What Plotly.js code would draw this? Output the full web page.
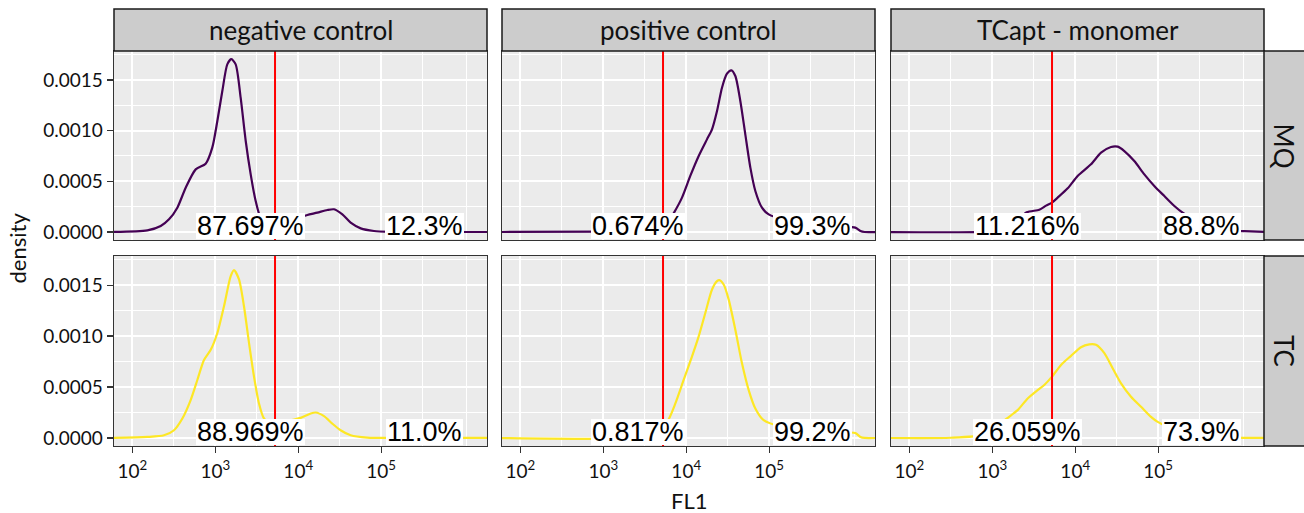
<!DOCTYPE html>
<html><head><meta charset="utf-8">
<script src="https://cdn.plot.ly/plotly-3.0.1.min.js"></script>
<style>html,body{margin:0;padding:0;background:#fff}#chart{width:1304px;height:513px}</style>
</head><body><div id="chart"></div>
<script>
// ---- data ----
const samples = ['negative control', 'positive control', 'TCapt - monomer'];
const media = ['MQ', 'TC'];
const mediaColors = ['#440154', '#FDE725'];
const threshold = 5250;
const labelBelowX = 2650;
const labelAboveX = 330000;
const pctBelow = ['87.697%', '0.674%', '11.216%', '88.969%', '0.817%', '26.059%'];
const pctAbove = ['12.3%', '99.3%', '88.8%', '11.0%', '99.2%', '73.9%'];
const xTickVals = [100, 1000, 10000, 100000];
const xTickText = ['10<sup>2</sup>', '10<sup>3</sup>', '10<sup>4</sup>', '10<sup>5</sup>'];
const xMinorVals = [316, 3162, 31623, 316228, 1070000];
const yTickVals = [0, 0.0005, 0.001, 0.0015];
const yTickText = ['0.0000', '0.0005', '0.0010', '0.0015'];
const yMinorVals = [0.00025, 0.00075, 0.00125, 0.00175];

// negative control, MQ
const negMQ_x = [50, 152, 220, 277, 349, 440, 581, 766, 920, 1059, 1216, 1396, 1563, 1762, 2023, 2328, 2673, 3069, 3524, 4467, 5623, 7586, 10000, 12880, 16980, 22440, 26980, 34040, 42850, 56620, 81850, 125900, 316200, 2000000];
const negMQ_y = [0, 1.6e-5, 5.9e-5, 1.25e-4, 2.4e-4, 4.37e-4, 6.18e-4, 6.74e-4, 8.32e-4, 1.095e-3, 1.391e-3, 1.654e-3, 1.705e-3, 1.654e-3, 1.325e-3, 8.98e-4, 5.69e-4, 3.06e-4, 1.41e-4, 7e-5, 6e-5, 1.0e-4, 1.4e-4, 1.68e-4, 1.91e-4, 2.17e-4, 2.24e-4, 1.74e-4, 9.2e-5, 3.6e-5, 1.0e-5, 2e-6, 0, 0];
// positive control, MQ
const posMQ_x = [50, 1000, 3000, 5623, 7047, 8892, 11190, 14130, 17780, 20460, 23500, 26980, 30970, 34990, 39080, 44870, 51520, 59290, 68080, 81850, 98630, 158500, 316200, 707900, 1091000, 1259000, 1413000, 2000000];
const posMQ_y = [0, 3e-6, 1e-5, 6e-5, 1.84e-4, 3.39e-4, 5.53e-4, 7.5e-4, 9.14e-4, 1.013e-3, 1.194e-3, 1.424e-3, 1.562e-3, 1.595e-3, 1.539e-3, 1.293e-3, 9.64e-4, 6.35e-4, 4.05e-4, 2.4e-4, 1.74e-4, 1.2e-4, 8e-5, 5.5e-5, 4.3e-5, 1e-5, 0, 0];
// TCapt - monomer, MQ
const tcaMQ_x = [50, 794, 1259, 1778, 2600, 3690, 4446, 5248, 6138, 8110, 10690, 15490, 20460, 26980, 32510, 39080, 51520, 68080, 89740, 118600, 156700, 197200, 302000, 478600, 758600, 1096000, 2000000];
const tcaMQ_y = [0, 2e-6, 2e-5, 8e-5, 1.94e-4, 2.2e-4, 2.6e-4, 2.9e-4, 3.39e-4, 4.31e-4, 5.53e-4, 6.68e-4, 7.83e-4, 8.39e-4, 8.42e-4, 7.99e-4, 7.0e-4, 5.69e-4, 4.54e-4, 3.55e-4, 2.57e-4, 1.91e-4, 1.0e-4, 4e-5, 1.5e-5, 8e-6, 0];
// negative control, TC
const negTC_x = [50, 152, 241, 318, 401, 505, 608, 731, 881, 1059, 1274, 1535, 1683, 1932, 2218, 2553, 2931, 3365, 3864, 5012, 7079, 10690, 14130, 16220, 20460, 25760, 32430, 42850, 68080, 158500, 2000000];
const negTC_y = [0, 1e-5, 2.6e-5, 7.6e-5, 1.91e-4, 3.72e-4, 5.69e-4, 7.66e-4, 8.65e-4, 1.03e-3, 1.293e-3, 1.589e-3, 1.648e-3, 1.556e-3, 1.293e-3, 9.31e-4, 6.02e-4, 3.39e-4, 1.91e-4, 1.2e-4, 1.6e-4, 1.97e-4, 2.4e-4, 2.5e-4, 2.14e-4, 1.41e-4, 7.6e-5, 2.6e-5, 3e-6, 0, 0];
// positive control, TC
const posTC_x = [50, 3000, 4467, 6138, 7396, 9311, 11720, 14130, 16980, 20460, 23500, 25060, 28250, 32510, 39080, 46990, 56620, 68080, 85700, 141300, 281800, 631000, 1091000, 1259000, 1413000, 2000000];
const posTC_y = [0, 3e-6, 4e-5, 1.84e-4, 3.39e-4, 5.69e-4, 7.99e-4, 9.97e-4, 1.227e-3, 1.457e-3, 1.539e-3, 1.549e-3, 1.506e-3, 1.358e-3, 1.062e-3, 7.33e-4, 4.7e-4, 2.89e-4, 1.74e-4, 1.1e-4, 8e-5, 6e-5, 4.9e-5, 1e-5, 0, 0];
// TCapt - monomer, TC
const tcaTC_x = [50, 316, 794, 1122, 1462, 2023, 2673, 3524, 4236, 5248, 6745, 8892, 11720, 14790, 17780, 22440, 28250, 35650, 46990, 62090, 81850, 98630, 158500, 281800, 631000, 2000000];
const tcaTC_y = [0, 2e-6, 3e-5, 1.0e-4, 1.84e-4, 2.73e-4, 3.88e-4, 4.7e-4, 5.2e-4, 6.02e-4, 7.17e-4, 8.06e-4, 8.91e-4, 9.18e-4, 9.14e-4, 8.32e-4, 6.84e-4, 5.36e-4, 4.05e-4, 3.06e-4, 2.07e-4, 1.58e-4, 8e-5, 3e-5, 5e-6, 0];

const panelX = [negMQ_x, posMQ_x, tcaMQ_x, negTC_x, posTC_x, tcaTC_x];
const panelY = [negMQ_y, posMQ_y, tcaMQ_y, negTC_y, posTC_y, tcaTC_y];

// ---- layout geometry (pixels) ----
const W = 1304, H = 513;
const colPx = [[114, 487], [502, 875], [891, 1264]];
const rowPx = [[51, 240], [256, 446]];
const stripTop = 9, stripRight = 1308;
const xRangeLog = [1.7793, 6.2754];
const yRange = [-0.0000789, 0.001786];

const UI_FONT = 'Lato, "Noto Sans", sans-serif';
const LABEL_FONT = '"Liberation Sans", Arial, sans-serif';
const TXT = '#111111';

const px2x = p => p / W;
const px2y = p => 1 - p / H;

const traces = [];
const layout = {
  width: W, height: H,
  margin: {l: 0, r: 0, t: 0, b: 0},
  paper_bgcolor: '#ffffff',
  plot_bgcolor: '#EBEBEB',
  showlegend: false,
  shapes: [],
  annotations: []
};

for (let i = 0; i < 6; i++) {
  const r = Math.floor(i / 3), c = i % 3;
  const k = i + 1;
  const xa = 'x' + (k === 1 ? '' : k), ya = 'y' + (k === 1 ? '' : k);
  traces.push({
    type: 'scatter', mode: 'lines', x: panelX[i], y: panelY[i],
    xaxis: xa, yaxis: ya,
    line: {color: mediaColors[r], width: 2.2, shape: 'spline', smoothing: 0.7},
    hoverinfo: 'skip'
  });
  traces.push({
    type: 'scatter', mode: 'lines', x: [threshold, threshold], y: [-0.01, 0.01],
    xaxis: xa, yaxis: ya,
    line: {color: '#FF0000', width: 2}, hoverinfo: 'skip'
  });
  const bottom = r === 1, left = c === 0;
  layout['xaxis' + (k === 1 ? '' : k)] = {
    type: 'log', range: xRangeLog, anchor: ya,
    domain: [px2x(colPx[c][0]), px2x(colPx[c][1])],
    tickmode: 'array', tickvals: xTickVals, ticktext: xTickText,
    showticklabels: bottom, ticks: bottom ? 'outside' : '', ticklen: 6, tickwidth: 1.2, tickcolor: '#333333',
    ticklabelstandoff: 2,
    tickfont: {family: UI_FONT, size: 19, color: TXT},
    showgrid: true, gridcolor: '#FFFFFF', gridwidth: 2,
    minor: {tickmode: 'array', tickvals: xMinorVals, showgrid: true, gridcolor: '#FFFFFF', gridwidth: 1, ticks: ''},
    zeroline: false, showline: true, mirror: true, linecolor: '#333333', linewidth: 1.3,
    fixedrange: true
  };
  layout['yaxis' + (k === 1 ? '' : k)] = {
    range: yRange, anchor: xa,
    domain: [px2y(rowPx[r][1]), px2y(rowPx[r][0])],
    tickmode: 'array', tickvals: yTickVals, ticktext: yTickText,
    showticklabels: left, ticks: left ? 'outside' : '', ticklen: 6, tickwidth: 1.2, tickcolor: '#333333',
    tickfont: {family: UI_FONT, size: 19, color: TXT},
    showgrid: true, gridcolor: '#FFFFFF', gridwidth: 2,
    minor: {tickmode: 'array', tickvals: yMinorVals, showgrid: true, gridcolor: '#FFFFFF', gridwidth: 1, ticks: ''},
    zeroline: false, showline: true, mirror: true, linecolor: '#333333', linewidth: 1.3,
    fixedrange: true
  };
  // percentage labels
  [[labelBelowX, pctBelow[i]], [labelAboveX, pctAbove[i]]].forEach(([lx, txt]) => {
    layout.annotations.push({
      xref: xa, yref: ya, x: Math.log10(lx), y: 0, yshift: 6,
      xanchor: 'center', yanchor: 'middle', showarrow: false,
      text: txt, font: {family: LABEL_FONT, size: 27, color: '#000000'},
      bgcolor: '#FFFFFF', borderpad: 1, height: 24, borderwidth: 0
    });
  });
}

// facet strips (top: samples, right: media)
samples.forEach((s, c) => {
  layout.shapes.push({
    type: 'rect', xref: 'paper', yref: 'paper', layer: 'above',
    x0: px2x(colPx[c][0]), x1: px2x(colPx[c][1]), y0: px2y(rowPx[0][0]), y1: px2y(stripTop),
    fillcolor: '#CCCCCC', line: {color: '#1a1a1a', width: 1.5}
  });
  layout.annotations.push({
    xref: 'paper', yref: 'paper', x: px2x((colPx[c][0] + colPx[c][1]) / 2), y: px2y((stripTop + rowPx[0][0]) / 2),
    xanchor: 'center', yanchor: 'middle', showarrow: false, text: s,
    font: {family: UI_FONT, size: 26, color: TXT}
  });
});
media.forEach((m, r) => {
  layout.shapes.push({
    type: 'rect', xref: 'paper', yref: 'paper', layer: 'above',
    x0: px2x(colPx[2][1]), x1: px2x(stripRight), y0: px2y(rowPx[r][1]), y1: px2y(rowPx[r][0]),
    fillcolor: '#CCCCCC', line: {color: '#1a1a1a', width: 1.5}
  });
  layout.annotations.push({
    xref: 'paper', yref: 'paper', x: px2x((colPx[2][1] + 1304) / 2), y: px2y((rowPx[r][0] + rowPx[r][1]) / 2),
    xanchor: 'center', yanchor: 'middle', showarrow: false, text: m, textangle: 90,
    font: {family: UI_FONT, size: 26, color: TXT}
  });
});

// axis titles
layout.annotations.push({
  xref: 'paper', yref: 'paper', x: px2x(17), y: px2y((rowPx[0][0] + rowPx[1][1]) / 2),
  xanchor: 'center', yanchor: 'middle', showarrow: false, text: 'density', textangle: -90,
  font: {family: UI_FONT, size: 22, color: TXT}
});
layout.annotations.push({
  xref: 'paper', yref: 'paper', x: px2x((colPx[0][0] + colPx[2][1]) / 2), y: px2y(500),
  xanchor: 'center', yanchor: 'middle', showarrow: false, text: 'FL1',
  font: {family: UI_FONT, size: 22, color: TXT}
});

Plotly.newPlot('chart', traces, layout, {staticPlot: true, displayModeBar: false});
</script>
</body></html>
